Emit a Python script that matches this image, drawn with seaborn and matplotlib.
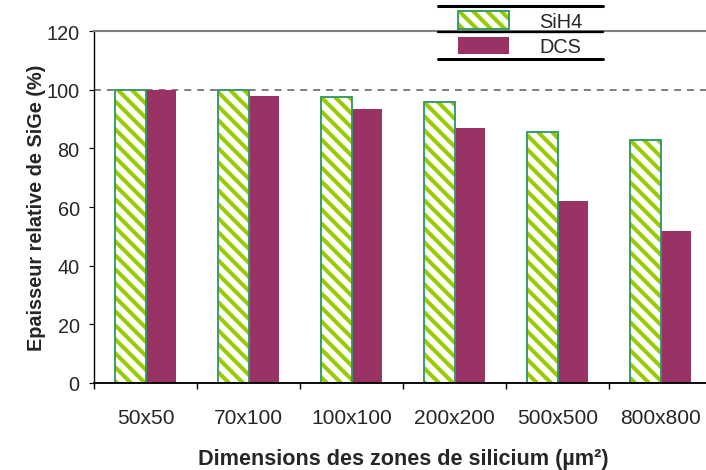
import matplotlib
matplotlib.use("Agg")
import matplotlib.pyplot as plt
import seaborn as sns
import pandas as pd
from matplotlib.patches import Patch, Rectangle
from matplotlib.lines import Line2D
from matplotlib.legend_handler import HandlerTuple

categories = ["50x50", "70x100", "100x100", "200x200", "500x500", "800x800"]
sih4 = [100.0, 100.0, 97.6, 95.7, 85.6, 82.9]
dcs = [100.0, 97.8, 93.4, 87.1, 62.0, 51.8]
series = ["SiH4", "DCS"]
yticks = [0, 20, 40, 60, 80, 100, 120]

LIME = "#99cc00"
GREEN = "#339966"
PURPLE = "#993366"
GREY = "#808080"
HATCH = "\\\\"

sns.set_style("white")
plt.rcParams["font.family"] = ["Liberation Sans", "DejaVu Sans"]
plt.rcParams["hatch.linewidth"] = 3.5

DPI = 84
fig = plt.figure(figsize=(706 / DPI, 471 / DPI), dpi=DPI)
ax = fig.add_axes([94 / 706, (471 - 384) / 471, (712 - 94) / 706, (384 - 32) / 471])

df = pd.DataFrame({
    "dim": categories * 2,
    "val": sih4 + dcs,
    "gaz": [series[0]] * len(categories) + [series[1]] * len(categories),
})

sns.barplot(data=df, x="dim", y="val", hue="gaz", order=categories, hue_order=series,
            palette={"SiH4": LIME, "DCS": PURPLE}, saturation=1, width=0.6, gap=0,
            linewidth=0, legend=False, ax=ax)

for p in ax.containers[0]:
    p.set_facecolor("white")
    p.set_edgecolor(LIME)
    p.set_hatch(HATCH)
    p.set_linewidth(0)
    ax.add_patch(Rectangle(p.get_xy(), p.get_width(), p.get_height(), fill=False,
                           edgecolor=GREEN, linewidth=1.6, zorder=p.get_zorder() + 0.1))
for p in ax.containers[1]:
    p.set_edgecolor("none")

ax.set_xlim(-0.5, len(categories) - 0.5)
ax.set_ylim(0, 120)
ax.set_yticks(yticks)
ax.axhline(100, color=GREY, linewidth=1.7, linestyle=(0, (3.5, 3.0)), zorder=0.5)

ax.spines["right"].set_visible(False)
ax.spines["top"].set_color(GREY)
ax.spines["top"].set_linewidth(1.8)
ax.spines["left"].set_color("black")
ax.spines["left"].set_linewidth(1.2)
ax.spines["bottom"].set_color("black")
ax.spines["bottom"].set_linewidth(1.6)

ax.tick_params(axis="y", which="major", direction="out", length=4.3, width=1.0,
               color="black", left=True, labelsize=17, pad=8)
ax.tick_params(axis="x", which="major", length=0, labelsize=18, pad=21.5)
ax.set_xticks([i - 0.5 for i in range(len(categories) + 1)], minor=True)
ax.tick_params(axis="x", which="minor", direction="out", length=5.5, width=1.2,
               color="black", bottom=True)

ax.set_xlabel("")
ax.set_ylabel("")
fig.text(403 / 706, 1 - 460 / 471, "Dimensions des zones de silicium (µm²)",
         ha="center", va="center", fontsize=18.5, fontweight="bold")
fig.text(37 / 706, 1 - 208 / 471, "Epaisseur relative de SiGe (%)",
         ha="center", va="center", rotation=90, fontsize=17, fontweight="bold")

# legend
h_sih4 = (Patch(facecolor="white", edgecolor=LIME, hatch=HATCH, linewidth=0),
          Patch(facecolor="none", edgecolor=GREEN, linewidth=1.6))
h_dcs = Patch(facecolor=PURPLE, edgecolor="none")
leg = fig.legend(handles=[h_sih4, h_dcs], labels=series,
                 handler_map={tuple: HandlerTuple(ndivide=1, pad=0)},
                 loc="upper left", bbox_to_anchor=(458 / 706, 1 - 12 / 471),
                 frameon=False, fontsize=17, handlelength=2.58, handleheight=1.0,
                 labelspacing=0.3, handletextpad=1.5, borderpad=0, borderaxespad=0)

for y, lw in [(7, 2.6), (33, 2.0), (60, 2.6)]:
    fig.add_artist(Line2D([438 / 706, 603 / 706], [1 - y / 471, 1 - y / 471],
                          color="black", linewidth=lw, transform=fig.transFigure))

fig.savefig("out.png", dpi=DPI)
